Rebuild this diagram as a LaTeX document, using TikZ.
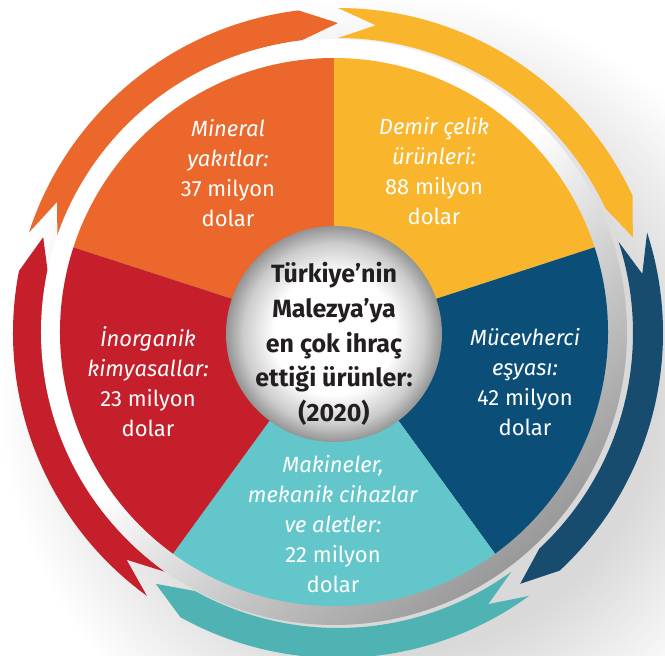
\documentclass[tikz,border=0pt]{standalone}
\usepackage{fontspec}
\setmainfont{Fira Sans}
\definecolor{mineral}{HTML}{EB672B}
\definecolor{demir}{HTML}{F9B52B}
\definecolor{mucev}{HTML}{0B4F78}
\definecolor{mucevar}{HTML}{174C6E}
\definecolor{makine}{HTML}{63C6CB}
\definecolor{makinear}{HTML}{4FB3B4}
\definecolor{inorg}{HTML}{C41F2A}
\definecolor{ink}{HTML}{231F20}
% soft grey disc behind the middle title
\pgfdeclareradialshading{discshade}{\pgfpoint{0bp}{0bp}}{color(0bp)=(white); color(14bp)=(white); color(21bp)=(black!20); color(25bp)=(black!42); color(50bp)=(black!42)}
% shadow to the lower right of the ring
\pgfdeclareradialshading{ringshadow}{\pgfpoint{0bp}{0bp}}{color(0bp)=(black!15); color(16bp)=(black!15); color(25bp)=(white); color(50bp)=(white)}
% silver band, grey only to the lower right
\pgfdeclareverticalshading{bandshade}{100bp}{color(0bp)=(black!40); color(25bp)=(black!40); color(38bp)=(black!22); color(52bp)=(white); color(100bp)=(white)}
% one arrow of the ring: colour, angle of its tip
\newcommand{\Chev}[2]{%
  \fill[#1,shift={(4,-1)}] ({#2+72}:325pt) arc[start angle={#2+72}, end angle={#2+7}, radius=325pt]
    -- (#2:310pt) -- ({#2+7}:295pt) arc[start angle={#2+7}, end angle={#2+72}, radius=295pt]
    -- ({#2+65}:310pt) -- cycle;}

\begin{document}
\begin{tikzpicture}[x=1pt,y=1pt,
        every node/.style={
          align=center,   % lines broken with "\\"
          inner sep=0pt
        },
        lbl/.style={text=white, font=\fontsize{22}{30}\selectfont},
        ctr/.style={text=ink, font=\bfseries\fontsize{25}{34.7}\selectfont}
      ]
      \useasboundingbox (-334,-324) rectangle (331,332);
      \shade[shading=ringshadow] (64,-61) circle[radius=400pt];
      % ring of arrows
      \Chev{inorg}{162}
      \Chev{mineral}{90}
      \Chev{demir}{18}
      \Chev{mucevar}{-54}
      \Chev{makinear}{-126}
      % silver band
      \shade[even odd rule, shading=bandshade, shading angle=40]
        (0,0) circle[radius=293pt] (0,0) circle[radius=272pt];
      % slices
      \fill[mineral] (0,0) -- (90:274pt) arc[start angle=90, end angle=162, radius=274pt] -- cycle;
      \fill[demir] (0,0) -- (18:274pt) arc[start angle=18, end angle=90, radius=274pt] -- cycle;
      \fill[mucev] (0,0) -- (-54:274pt) arc[start angle=-54, end angle=18, radius=274pt] -- cycle;
      \fill[makine] (0,0) -- (-126:274pt) arc[start angle=-126, end angle=-54, radius=274pt] -- cycle;
      \fill[inorg] (0,0) -- (162:274pt) arc[start angle=162, end angle=234, radius=274pt] -- cycle;
      % middle
      \node[circle, minimum size=216pt, shading=discshade](Disc) at (0,-2){};
      \node[ctr](Title) at (0,-12){Türkiye’nin\\Malezya’ya\\en çok ihraç\\ettiği ürünler:\\(2020)};
      \node[lbl](Mineral) at (-106,159){\textit{Mineral}\\\textit{yakıtlar:}\\37 milyon\\dolar};
      \node[lbl](Demir) at (100,161){\textit{Demir çelik}\\\textit{ürünleri:}\\88 milyon\\dolar};
      \node[lbl](Mucev) at (191,-50){\textit{Mücevherci}\\\textit{eşyası:}\\42 milyon\\dolar};
      \node[lbl](Makine) at (-1,-192){\textit{Makineler,}\\\textit{mekanik cihazlar}\\\textit{ve aletler:}\\22 milyon\\dolar};
      \node[lbl](Inorg) at (-186,-50){\textit{İnorganik}\\\textit{kimyasallar:}\\23 milyon\\dolar};
\end{tikzpicture}
\end{document}
